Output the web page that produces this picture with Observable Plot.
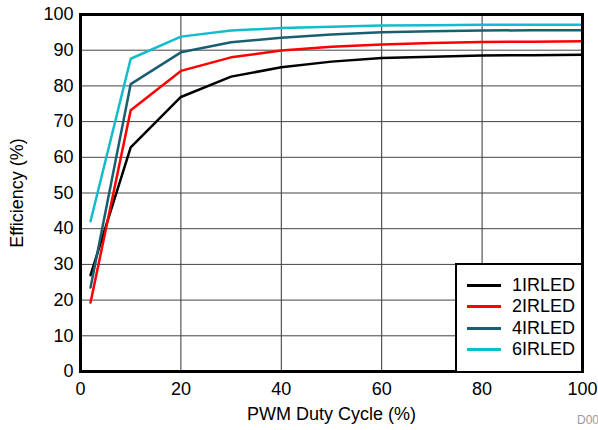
<!DOCTYPE html>
<html><head><meta charset="utf-8">
<script src="https://cdn.jsdelivr.net/npm/d3@7"></script>
<script src="https://cdn.jsdelivr.net/npm/@observablehq/plot@0.6"></script>
<style>
body{margin:0;background:#fff;font-family:"Liberation Sans",Arial,sans-serif;}
#wrap{position:relative;width:598px;height:430px;overflow:hidden;}
#legend{position:absolute;left:455px;top:263px;width:124px;height:106px;border:2px solid #000;background:#fff;box-sizing:content-box;}
.row{position:absolute;left:10px;height:21px;display:flex;align-items:center;font-size:18px;color:#000;}
.sw{width:34px;height:3px;margin-right:11px;}
#code{position:absolute;left:577px;top:413px;font-size:12px;color:#999;white-space:nowrap;}
</style></head>
<body><div id="wrap"><div id="chart"></div><div id="legend"></div><div id="code">D00</div></div>
<script>
const duty = [2, 10, 20, 30, 40, 50, 60, 70, 80, 90, 100];
const ir1 = [27, 62.8, 76.9, 82.6, 85.2, 86.8, 87.8, 88.2, 88.5, 88.6, 88.7];
const ir2 = [19.3, 73.2, 84.2, 88.0, 89.9, 91.0, 91.6, 92.0, 92.3, 92.4, 92.5];
const ir4 = [23.5, 80.5, 89.4, 92.2, 93.5, 94.4, 95.0, 95.3, 95.5, 95.6, 95.6];
const ir6 = [42.1, 87.6, 93.8, 95.5, 96.2, 96.6, 96.9, 97.0, 97.1, 97.1, 97.1];
const seriesNames = ["1IRLED", "2IRLED", "4IRLED", "6IRLED"];
const seriesColors = ["#000000", "#ff0000", "#1a5e72", "#12bccc"];
const xTicks = [0, 20, 40, 60, 80, 100];
const yTicks = [0, 10, 20, 30, 40, 50, 60, 70, 80, 90, 100];

const allSeries = [ir1, ir2, ir4, ir6];
const data = [];
allSeries.forEach((vals, i) => vals.forEach((v, j) => data.push({x: duty[j], y: v, s: seriesNames[i]})));

const plot = Plot.plot({
  width: 598, height: 430,
  marginLeft: 80, marginRight: 16, marginTop: 14, marginBottom: 59,
  style: {fontFamily: '"Liberation Sans", Arial, sans-serif', fontSize: "18px", background: "#fff", color: "#000"},
  x: {domain: [0, 100]},
  y: {domain: [0, 100]},
  color: {domain: seriesNames, range: seriesColors},
  marks: [
    Plot.gridX(xTicks.slice(1, -1), {stroke: "#333", strokeOpacity: 1, strokeWidth: 1}),
    Plot.gridY(yTicks.slice(1, -1), {stroke: "#444", strokeOpacity: 1, strokeWidth: 1}),
    Plot.line(data, {x: "x", y: "y", z: "s", stroke: "s", strokeWidth: 2.5}),
    Plot.frame({stroke: "#000", strokeWidth: 3}),
    Plot.axisX({ticks: xTicks, tickSize: 0, tickPadding: 11, fontSize: 18, label: "PWM Duty Cycle (%)", labelAnchor: "center", labelArrow: "none", labelOffset: 48}),
    Plot.axisY({ticks: yTicks, tickSize: 0, tickPadding: 7, fontSize: 18, label: "Efficiency (%)", labelAnchor: "center", labelArrow: "none", labelOffset: 70})
  ]
});
document.getElementById("chart").appendChild(plot);

const leg = document.getElementById("legend");
seriesNames.forEach((n, i) => {
  const r = document.createElement("div");
  r.className = "row";
  r.style.top = (10 + i * 21.3) + "px";
  r.innerHTML = `<div class="sw" style="background:${seriesColors[i]}"></div><span>${n}</span>`;
  leg.appendChild(r);
});
</script></body></html>
